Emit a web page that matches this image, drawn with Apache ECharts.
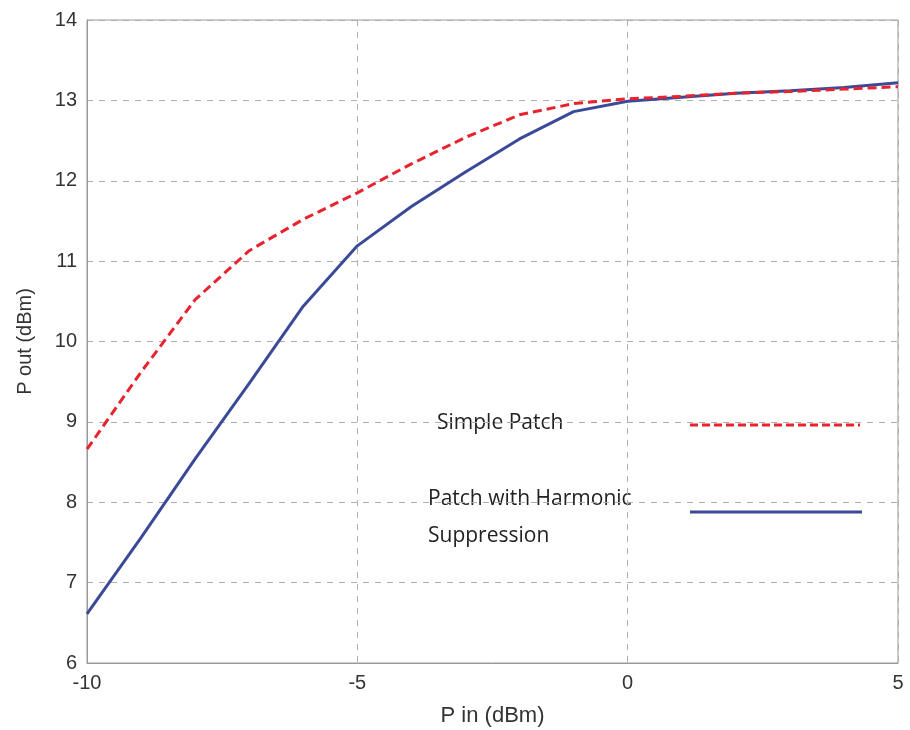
<!DOCTYPE html>
<html>
<head>
<meta charset="utf-8">
<script src="https://cdn.jsdelivr.net/npm/echarts@6/dist/echarts.min.js"></script>
<style>
  html, body { margin: 0; padding: 0; background: #fff; }
  #chart { width: 910px; height: 730px; }
</style>
</head>
<body>
<div id="chart"></div>
<script>
// Input power sweep (dBm)
const pIn = [-10, -9, -8, -7, -6, -5, -4, -3, -2, -1, 0, 1, 2, 3, 4, 5];
// Output power (dBm) of the plain patch antenna amplifier
const simplePatch = [8.66, 9.62, 10.52, 11.13, 11.52, 11.85, 12.21, 12.54, 12.82, 12.96, 13.02, 13.05, 13.09, 13.11, 13.14, 13.17];
// Output power (dBm) with the harmonic-suppression patch
const harmonicPatch = [6.61, 7.56, 8.54, 9.48, 10.44, 11.19, 11.68, 12.11, 12.52, 12.86, 12.99, 13.04, 13.09, 13.12, 13.16, 13.22];

const seriesNames = ['Simple Patch', 'Patch with Harmonic\nSuppression'];

const pairs = (ys) => pIn.map((x, i) => [x, ys[i]]);

const chart = echarts.init(document.getElementById('chart'));
const gridLine = { show: true, lineStyle: { color: '#b0b0b0', type: [6, 6], width: 1 } };
const sansFamily = 'Liberation Sans, Arial, sans-serif';
const tickFont = { fontFamily: sansFamily, fontSize: 20, color: '#333' };
const legendFont = 'Open Sans, Noto Sans, sans-serif';

chart.setOption({
  animation: false,
  backgroundColor: '#fff',
  grid: {
    left: 87, right: 12, top: 20, bottom: 67,
    outerBoundsMode: 'none', containLabel: false,
    show: true, borderColor: '#999', borderWidth: 1
  },
  xAxis: {
    type: 'value', min: -10, max: 5, interval: 5,
    name: 'P in (dBm)', nameLocation: 'middle', nameGap: 42,
    nameTextStyle: { fontFamily: sansFamily, fontSize: 22, color: '#333' },
    axisLine: { show: true, onZero: false, lineStyle: { color: '#999' } },
    axisTick: { show: false },
    axisLabel: Object.assign({ margin: 10 }, tickFont),
    splitLine: gridLine
  },
  yAxis: {
    type: 'value', min: 6, max: 14, interval: 1,
    name: 'P out (dBm)', nameLocation: 'middle', nameGap: 52, nameRotate: 90,
    nameTextStyle: { fontFamily: sansFamily, fontSize: 20, color: '#333' },
    axisLine: { show: true, onZero: false, lineStyle: { color: '#999' } },
    axisTick: { show: false },
    axisLabel: Object.assign({ margin: 10 }, tickFont),
    splitLine: gridLine
  },
  graphic: [
    { type: 'text', left: 437, top: 413, style: { text: seriesNames[0], font: '21px ' + legendFont, fill: '#222' } },
    { type: 'line', shape: { x1: 690, y1: 425, x2: 860, y2: 425 }, style: { stroke: '#e8232d', lineWidth: 3, lineDash: [8, 4] } },
    { type: 'text', left: 428, top: 481, style: { text: seriesNames[1], font: '21px ' + legendFont, fill: '#222', lineHeight: 37 } },
    { type: 'line', shape: { x1: 690, y1: 512, x2: 862, y2: 512 }, style: { stroke: '#3b4a98', lineWidth: 3 } }
  ],
  series: [
    {
      name: seriesNames[0], type: 'line', data: pairs(simplePatch), showSymbol: false,
      lineStyle: { color: '#e8232d', width: 3, type: [9, 5] }, z: 3
    },
    {
      name: seriesNames[1], type: 'line', data: pairs(harmonicPatch), showSymbol: false,
      lineStyle: { color: '#3b4a98', width: 3 }, z: 2
    }
  ]
});
</script>
</body>
</html>
